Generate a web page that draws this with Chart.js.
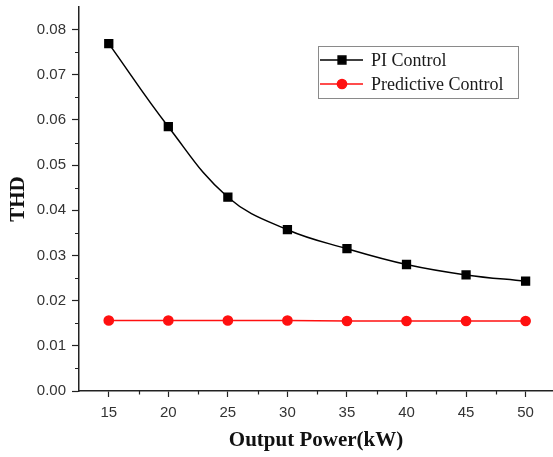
<!DOCTYPE html>
<html>
<head>
<meta charset="utf-8">
<title>THD vs Output Power</title>
<script src="https://cdn.jsdelivr.net/npm/chart.js@4/dist/chart.umd.min.js"></script>
<style>
  html, body { margin: 0; padding: 0; background: #fff; overflow: hidden; }
  #chart { display: block; }
</style>
</head>
<body>
<canvas id="chart" width="560" height="457"></canvas>
<script>
// output power steps (kW)
const powerKW = [15, 20, 25, 30, 35, 40, 45, 50];
// THD measured with each controller
const thdPI = [0.0769, 0.0585, 0.0429, 0.0357, 0.0315, 0.0280, 0.0257, 0.0243];
const thdPredictive = [0.0156, 0.0156, 0.0156, 0.0156, 0.0155, 0.0155, 0.0155, 0.0155];

const xTicks = [15, 20, 25, 30, 35, 40, 45, 50];
const yTicks = [0, 0.01, 0.02, 0.03, 0.04, 0.05, 0.06, 0.07, 0.08];
const xMinor = [17.5, 22.5, 27.5, 32.5, 37.5, 42.5, 47.5];
const yMinor = [0.005, 0.015, 0.025, 0.035, 0.045, 0.055, 0.065, 0.075];

const seriesNames = ['PI Control', 'Predictive Control'];

const AXIS = '#222';
const SERIF = '"Liberation Serif", "Times New Roman", serif';

function points(values) {
  return powerKW.map((x, i) => ({ x, y: values[i] }));
}

// short ticks between the labelled ones
const minorTicks = {
  id: 'minorTicks',
  afterDraw(chart) {
    const { ctx, chartArea, scales } = chart;
    ctx.save();
    ctx.strokeStyle = AXIS;
    ctx.lineWidth = 1.2;
    ctx.beginPath();
    for (const v of xMinor) {
      const px = Math.round(scales.x.getPixelForValue(v)) + 0.5;
      ctx.moveTo(px, chartArea.bottom);
      ctx.lineTo(px, chartArea.bottom + 3.5);
    }
    for (const v of yMinor) {
      const py = Math.round(scales.y.getPixelForValue(v)) + 0.5;
      ctx.moveTo(chartArea.left, py);
      ctx.lineTo(chartArea.left - 4, py);
    }
    ctx.stroke();
    ctx.restore();
  }
};

// boxed legend inside the plot, upper right
const boxLegend = {
  id: 'boxLegend',
  afterDraw(chart) {
    const { ctx } = chart;
    const box = { x: 318, y: 46, w: 200, h: 52 };
    ctx.save();
    ctx.fillStyle = '#fff';
    ctx.fillRect(box.x, box.y, box.w, box.h);
    ctx.strokeStyle = '#8a8a8a';
    ctx.lineWidth = 1;
    ctx.strokeRect(box.x + 0.5, box.y + 0.5, box.w, box.h);

    chart.data.datasets.forEach((ds, i) => {
      const y = 60 + i * 24;
      ctx.strokeStyle = ds.borderColor;
      ctx.lineWidth = ds.borderWidth;
      ctx.beginPath();
      ctx.moveTo(320, y);
      ctx.lineTo(363, y);
      ctx.stroke();
      ctx.fillStyle = ds.pointBackgroundColor;
      ctx.strokeStyle = ds.pointBorderColor;
      Chart.helpers.drawPoint(ctx, {
        pointStyle: ds.pointStyle,
        radius: ds.pointRadius,
        rotation: 0,
        borderWidth: 1
      }, 342, y);
      ctx.fillStyle = '#1a1a1a';
      ctx.font = '18px ' + SERIF;
      ctx.textBaseline = 'middle';
      ctx.textAlign = 'left';
      ctx.fillText(ds.label, 371, y + 1);
    });
    ctx.restore();
  }
};

Chart.defaults.font.family = '"Liberation Sans", Arial, sans-serif';

new Chart(document.getElementById('chart'), {
  type: 'line',
  data: {
    datasets: [
      {
        label: seriesNames[0],
        data: points(thdPI),
        borderColor: '#000',
        borderWidth: 1.5,
        tension: 0.4,
        pointStyle: 'rect',
        pointRadius: 5.5,
        pointBackgroundColor: '#000',
        pointBorderColor: '#000'
      },
      {
        label: seriesNames[1],
        data: points(thdPredictive),
        borderColor: '#ff1010',
        borderWidth: 1.5,
        pointStyle: 'circle',
        pointRadius: 4.6,
        pointBackgroundColor: '#ff1010',
        pointBorderColor: '#ff1010'
      }
    ]
  },
  options: {
    responsive: false,
    animation: false,
    layout: { padding: { top: 6, right: 0, left: 0, bottom: 0 } },
    plugins: {
      legend: { display: false },
      tooltip: { enabled: false }
    },
    scales: {
      x: {
        type: 'linear',
        min: 12.5,
        max: 52.3,
        afterBuildTicks(scale) { scale.ticks = xTicks.map(value => ({ value })); },
        afterFit(scale) {
          scale.height = 66;
          scale.paddingLeft = 0;
          scale.paddingRight = 0;
        },
        border: { display: true, color: AXIS, width: 1.5 },
        grid: { drawOnChartArea: false, drawTicks: true, tickLength: 6, tickColor: AXIS, tickWidth: 1.2 },
        ticks: { color: '#333', font: { size: 15 }, padding: 7, maxRotation: 0 },
        title: {
          display: true,
          text: 'Output Power(kW)',
          color: '#111',
          font: { family: SERIF, size: 21, weight: 'bold' },
          padding: { top: 0, bottom: 4 }
        }
      },
      y: {
        type: 'linear',
        min: 0,
        max: 0.085,
        afterBuildTicks(scale) { scale.ticks = yTicks.map(value => ({ value })); },
        afterFit(scale) {
          scale.width = 79;
          scale.paddingTop = 0;
          scale.paddingBottom = 0;
        },
        border: { display: true, color: AXIS, width: 1.5 },
        grid: { drawOnChartArea: false, drawTicks: true, tickLength: 7, tickColor: AXIS, tickWidth: 1.2 },
        ticks: {
          color: '#333',
          font: { size: 15 },
          padding: 6,
          callback: value => Number(value).toFixed(2)
        },
        title: {
          display: true,
          text: 'THD',
          color: '#111',
          font: { family: SERIF, size: 21, weight: 'bold' },
          padding: { top: 6, bottom: 0 }
        }
      }
    }
  },
  plugins: [minorTicks, boxLegend]
});
</script>
</body>
</html>
